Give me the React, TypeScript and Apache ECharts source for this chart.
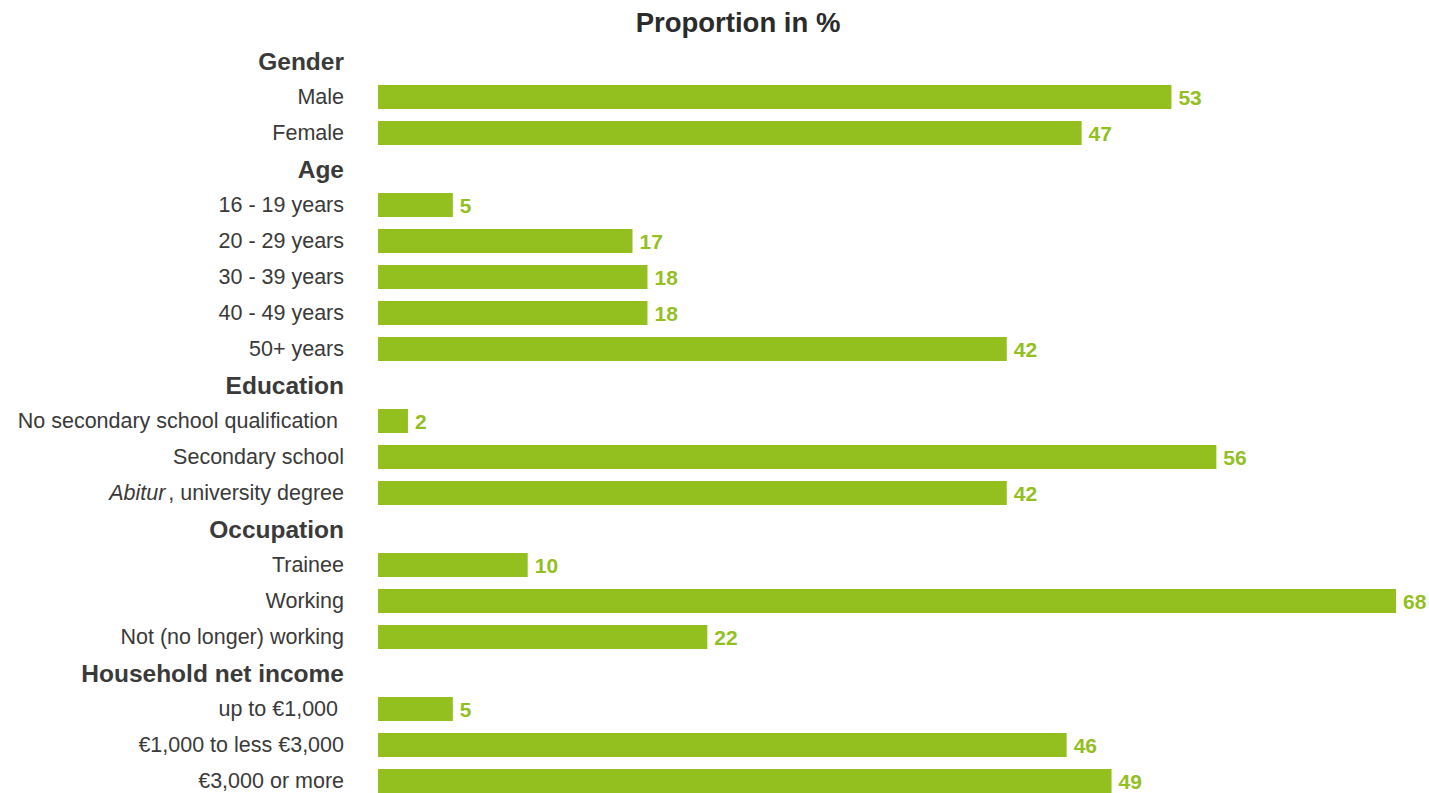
import React, { useEffect, useRef } from "react";
import * as echarts from "echarts";

const categories: string[] = [
  "Gender",
  "Male",
  "Female",
  "Age",
  "16 - 19 years",
  "20 - 29 years",
  "30 - 39 years",
  "40 - 49 years",
  "50+ years",
  "Education",
  "No secondary school qualification ",
  "Secondary school",
  "Abitur, university degree",
  "Occupation",
  "Trainee",
  "Working",
  "Not (no longer) working",
  "Household net income",
  "up to €1,000 ",
  "€1,000 to less €3,000",
  "€3,000 or more",
];

const headerRows: string[] = ["Gender", "Age", "Education", "Occupation", "Household net income"];

const values: (number | null)[] = [
  null, 53, 47,
  null, 5, 17, 18, 18, 42,
  null, 2, 56, 42,
  null, 10, 68, 22,
  null, 5, 46, 49,
];

const GREEN = "#93c01f";
const TEXT = "#3a3a3a";
const FONT = "Liberation Sans, Arial, sans-serif";

export default function App() {
  const ref = useRef<HTMLDivElement>(null);
  useEffect(() => {
    if (!ref.current) return;
    const chart = echarts.init(ref.current, undefined, { renderer: "svg" });
    chart.setOption({
      animation: false,
      title: {
        text: "Proportion in %",
        left: 733,
        top: 3,
        textAlign: "center",
        textStyle: {
          fontFamily: FONT,
          fontWeight: "bold",
          fontSize: 27.5,
          color: "#2b2b2b",
        },
      },
      grid: {
        left: 378,
        top: 43,
        width: 1018,
        height: 756,
        containLabel: false,
        outerBoundsMode: "none",
      },
      xAxis: {
        type: "value",
        min: 0,
        max: 68,
        show: false,
        splitLine: { show: false },
      },
      yAxis: {
        type: "category",
        inverse: true,
        data: categories,
        axisLine: { show: false },
        axisTick: { show: false },
        splitLine: { show: false },
        axisLabel: {
          margin: 34,
          align: "right",
          interval: 0,
          formatter: (val: string) => {
            if (headerRows.includes(val)) return "{b|" + val + "}";
            if (val.startsWith("Abitur")) return "{i|Abitur}{n|" + val.slice(6) + "}";
            return "{n|" + val + "}";
          },
          rich: {
            b: {
              fontFamily: FONT,
              fontWeight: "bold",
              fontSize: 24.5,
              color: TEXT,
            },
            n: {
              fontFamily: FONT,
              fontSize: 21.5,
              color: TEXT,
            },
            i: {
              fontFamily: FONT,
              fontStyle: "italic",
              fontSize: 21.5,
              color: TEXT,
              padding: [0, 3, 0, 0],
            },
          },
        },
      },
      series: [
        {
          type: "bar",
          data: values.map((v) => (v === null ? "-" : v)),
          barWidth: 24,
          itemStyle: { color: GREEN },
          label: {
            show: true,
            position: "right",
            distance: 7,
            color: GREEN,
            fontFamily: FONT,
            fontWeight: "bold",
            fontSize: 21,
          },
        },
      ],
    });
    return () => chart.dispose();
  }, []);
  return (
    <div
      ref={ref}
      style={{ position: "absolute", left: 0, top: 0, width: 1429, height: 793, background: "#ffffff" }}
    />
  );
}
